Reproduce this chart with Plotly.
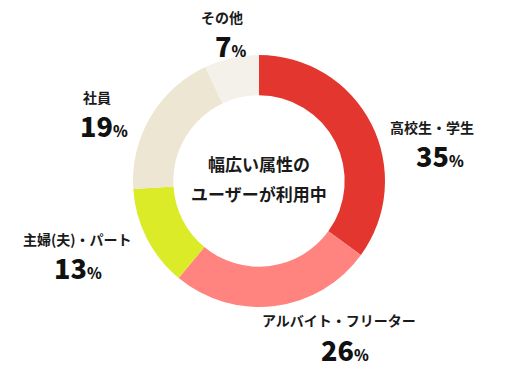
import plotly.graph_objects as go

categories = ["高校生・学生", "アルバイト・フリーター", "主婦(夫)・パート", "社員", "その他"]
values = [35, 26, 13, 19, 7]
colors = ["#E2362F", "#FF837E", "#DCEB27", "#EDE6D2", "#F4F1EA"]
center_lines = ["幅広い属性の", "ユーザーが利用中"]

OFF = 8  # page body margin
W, H = 516 - OFF, 371 - OFF
FONT = "Noto Sans CJK JP"
# label anchor pixels (x center, label y, number x, number y) in window pixels
label_pos = {
    "高校生・学生": (432, 127, 440, 155),
    "アルバイト・フリーター": (339, 320, 345, 349),
    "主婦(夫)・パート": (77, 239, 78, 267),
    "社員": (97, 97, 104, 125),
    "その他": (222, 17, 230, 45),
}
cx, cy, r = 259, 181, 126


def px(x):
    return (x - OFF) / W


def py(y):
    return 1 - (y - OFF) / H


fig = go.Figure(go.Pie(
    labels=categories,
    values=values,
    hole=0.68,
    sort=False,
    direction="clockwise",
    rotation=0,
    marker=dict(colors=colors, line=dict(width=0)),
    textinfo="none",
    hoverinfo="label+percent",
    showlegend=False,
    domain=dict(x=[px(cx - r), px(cx + r)], y=[py(cy + r), py(cy - r)]),
))

annotations = []
for line, ly in zip(center_lines, [163, 193]):
    annotations.append(dict(
        text="<b>" + line + "</b>", x=px(cx), y=py(ly),
        xref="paper", yref="paper", showarrow=False, xanchor="center", yanchor="middle",
        borderpad=0, font=dict(family=FONT, size=17, color="#1a1a1a"),
    ))
for cat, val in zip(categories, values):
    lx, ly, nx, ny = label_pos[cat]
    annotations.append(dict(
        text="<b>" + cat + "</b>", x=px(lx), y=py(ly), xref="paper", yref="paper",
        showarrow=False, xanchor="center", yanchor="middle", borderpad=0,
        font=dict(family=FONT, size=14, color="#1a1a1a"),
    ))
    annotations.append(dict(
        text=str(val) + "<span style='font-size:15px'>%</span>",
        x=px(nx), y=py(ny), xref="paper", yref="paper",
        showarrow=False, xanchor="center", yanchor="middle", borderpad=0,
        font=dict(family=FONT, size=27, color="#111111", weight=900),
    ))

fig.update_layout(
    width=W, height=H,
    margin=dict(l=0, r=0, t=0, b=0),
    paper_bgcolor="white", plot_bgcolor="white",
    annotations=annotations,
)
fig.write_html("out.html")
